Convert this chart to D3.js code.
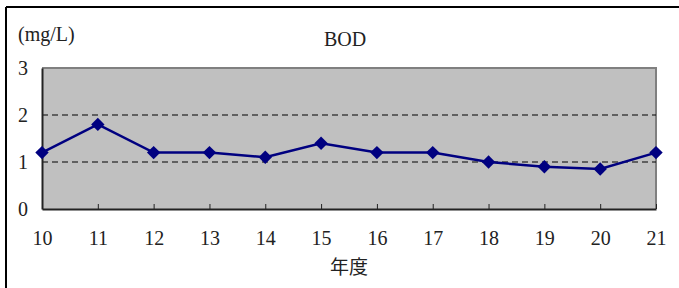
<!DOCTYPE html>
<html>
<head>
<meta charset="utf-8">
<script src="https://cdn.jsdelivr.net/npm/d3@7"></script>
<style>
body { margin: 0; background: #fff; }
</style>
</head>
<body>
<svg id="chart"></svg>
<script>
const years = [10, 11, 12, 13, 14, 15, 16, 17, 18, 19, 20, 21];
const bod = [1.2, 1.8, 1.2, 1.2, 1.1, 1.4, 1.2, 1.2, 1.0, 0.9, 0.85, 1.2];
const yTicks = [0, 1, 2, 3];
const gridLines = [1, 2];

const width = 679, height = 288;
const serif = '"Liberation Serif", "DejaVu Serif", serif';
const svg = d3.select('#chart').attr('width', width).attr('height', height);

const plotL = 42, plotR = 656, plotT = 68, plotB = 209;

const x = d3.scalePoint().domain(years).range([plotL, plotR]);
const y = d3.scaleLinear().domain([0, 3]).range([plotB, plotT]);

// outer frame (only top and left edges show in the picture)
svg.append('line').attr('x1', 6).attr('x2', width).attr('y1', 7).attr('y2', 7)
	.attr('stroke', '#000').attr('stroke-width', 2);
svg.append('line').attr('x1', 6).attr('x2', 6).attr('y1', 7).attr('y2', height)
	.attr('stroke', '#000').attr('stroke-width', 2);

// plot area
svg.append('rect')
	.attr('x', plotL).attr('y', plotT)
	.attr('width', plotR - plotL).attr('height', plotB - plotT)
	.attr('fill', '#c0c0c0');
// gray top/right border
svg.append('path')
	.attr('d', `M${plotL},${plotT}H${plotR}V${plotB}`)
	.attr('fill', 'none').attr('stroke', '#808080').attr('stroke-width', 2);

// dashed grid
svg.selectAll('.grid')
	.data(gridLines)
	.join('line')
		.attr('class', 'grid')
		.attr('x1', plotL).attr('x2', plotR)
		.attr('y1', d => y(d)).attr('y2', d => y(d))
		.attr('stroke', '#000').attr('stroke-width', 1)
		.attr('stroke-dasharray', '6,4');

// x axis
const xAxis = svg.append('g')
	.attr('transform', `translate(0,${plotB})`)
	.call(d3.axisBottom(x).tickSizeInner(-5).tickSizeOuter(0).tickPadding(22));
xAxis.select('.domain').attr('stroke', '#222').attr('stroke-width', 2);
xAxis.selectAll('.tick line').attr('stroke', '#222');
xAxis.attr('font-family', null).attr('font-size', null);
xAxis.selectAll('text').style('font-family', serif).style('font-size', '20px').attr('fill', '#222');

// y axis
const yAxis = svg.append('g')
	.attr('transform', `translate(${plotL},0)`)
	.call(d3.axisLeft(y).tickValues(yTicks).tickFormat(d3.format('d')).tickSize(0).tickPadding(14));
yAxis.select('.domain').attr('stroke', '#222').attr('stroke-width', 2);
yAxis.attr('font-family', null).attr('font-size', null);
yAxis.selectAll('text').style('font-family', serif).style('font-size', '20px').attr('fill', '#222');

// line
svg.append('path')
	.datum(bod)
	.attr('fill', 'none')
	.attr('stroke', '#000080')
	.attr('stroke-width', 2.5)
	.attr('d', d3.line().x((d, i) => x(years[i])).y(d => y(d)));

// diamonds
svg.selectAll('.pt')
	.data(bod)
	.join('path')
		.attr('class', 'pt')
		.attr('d', d3.symbol(d3.symbolDiamond2, 115))
		.attr('transform', (d, i) => `translate(${x(years[i])},${y(d)})`)
		.attr('fill', '#000080');

// texts
svg.append('text').attr('x', 18).attr('y', 41)
	.style('font-family', serif).style('font-size', '20px').attr('fill', '#222').text('(mg/L)');
svg.append('text').attr('x', 345).attr('y', 46)
	.style('font-family', serif).style('font-size', '20px').attr('fill', '#222')
	.attr('text-anchor', 'middle').text('BOD');
svg.append('text').attr('x', 349).attr('y', 274)
	.attr('text-anchor', 'middle')
	.style('font-family', '"Noto Sans CJK JP", sans-serif').style('font-size', '19px')
	.attr('fill', '#222')
	.text('年度');
</script>
</body>
</html>
